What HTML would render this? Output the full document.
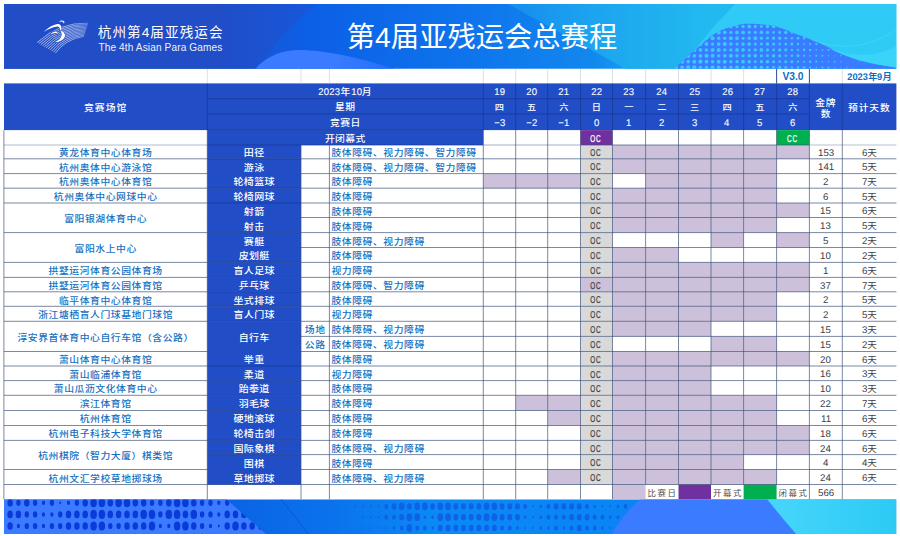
<!DOCTYPE html>
<html lang="zh-CN">
<head>
<meta charset="utf-8">
<title>第4届亚残运会总赛程</title>
<style>
html,body{margin:0;padding:0;background:#fff;}
body{width:900px;height:536px;position:relative;overflow:hidden;font-family:"Liberation Sans","Noto Sans CJK SC",sans-serif;}
#gfx{position:absolute;left:0;top:0;}
.c{position:absolute;box-sizing:border-box;white-space:nowrap;text-align:center;font-size:9.8px;overflow:visible;height:14px;line-height:14px;transform:scaleY(.9);transform-origin:50% 52%;}
.d{display:inline-block;transform:scale(.97,1.11) rotate(.03deg);font-size:9.8px;line-height:1;vertical-align:baseline;}
.ht{color:#fff;font-weight:500;font-size:9.8px;letter-spacing:0.4px;}
.ht .d{letter-spacing:0.2px;font-weight:400;-webkit-text-stroke:0.1px #fff;}
.st{font-weight:500;font-size:10px;letter-spacing:0.3px;}
.bt{color:#1570c1;font-weight:500;font-size:9.8px;letter-spacing:0.58px;}
.l{text-align:left;}
.r{text-align:right;}
.nm{color:#3c4046;font-weight:400;font-size:9.5px;}
.nm .d{font-size:9.7px;transform:scale(1,1.11) rotate(.03deg);}
.oc{color:#484848;font-weight:400;font-size:9.4px;}
.oc .d{font-size:10px;transform:scale(.64,1.11) rotate(.03deg);letter-spacing:1.3px;margin-right:-1.3px;position:relative;left:-0.9px;-webkit-text-stroke:0.32px #484848;}
.oc.w{color:#fff;}
.oc.w .d{-webkit-text-stroke:0.3px #fff;}
.lg{color:#4a4a4a;font-weight:400;font-size:8.4px;text-align:left;letter-spacing:1.6px;}
.vb{color:#0b70c5;font-weight:700;font-size:10.6px;transform:none;}
.vb .d{font-size:1.04em;transform:scaleX(.97) rotate(.03deg);}
.t1{position:absolute;left:97.8px;top:23.2px;color:#fff;font-size:13.6px;letter-spacing:1.05px;line-height:20px;white-space:nowrap;font-weight:400;}
.t2{position:absolute;left:98.4px;top:40.6px;color:#fff;font-size:10.1px;letter-spacing:0.12px;line-height:14px;white-space:nowrap;opacity:.93;}
.tt{position:absolute;left:346.8px;top:17.4px;color:#fff;font-size:28.3px;line-height:40px;white-space:nowrap;font-weight:400;}
</style>
</head>
<body>
<svg id="gfx" width="900" height="536" viewBox="0 0 900 536">
<defs>
<linearGradient id="bg1" gradientUnits="userSpaceOnUse" x1="4" y1="0" x2="896.4" y2="0">
<stop offset="0" stop-color="#214dc6"/>
<stop offset="0.27" stop-color="#1a55d4"/>
<stop offset="0.34" stop-color="#0c5fe6"/>
<stop offset="0.52" stop-color="#0e74ec"/>
<stop offset="0.66" stop-color="#1288ee"/>
<stop offset="0.72" stop-color="#1ea6ef"/>
<stop offset="1" stop-color="#22b8f0"/>
</linearGradient>
<linearGradient id="bgD" gradientUnits="userSpaceOnUse" x1="505" y1="0" x2="700" y2="0">
<stop offset="0" stop-color="#158cee"/>
<stop offset="0.45" stop-color="#1ca4ef"/>
<stop offset="1" stop-color="#22b8f0"/>
</linearGradient>
<linearGradient id="bgL" gradientUnits="userSpaceOnUse" x1="215" y1="0" x2="318" y2="0">
<stop offset="0" stop-color="#214dc6"/>
<stop offset="1" stop-color="#1658dc"/>
</linearGradient>
<linearGradient id="hl" gradientUnits="userSpaceOnUse" x1="254" y1="0" x2="400" y2="0">
<stop offset="0" stop-color="#3b7bff"/>
<stop offset="0.55" stop-color="#3b7bff"/>
<stop offset="1" stop-color="#1f6ff2"/>
</linearGradient>
<linearGradient id="lg1" gradientUnits="userSpaceOnUse" x1="36" y1="0" x2="89" y2="0">
<stop offset="0" stop-color="#fff" stop-opacity=".95"/>
<stop offset="0.55" stop-color="#fff" stop-opacity=".9"/>
<stop offset="0.8" stop-color="#fff" stop-opacity=".75"/>
<stop offset="1" stop-color="#fff" stop-opacity=".45"/>
</linearGradient>
<linearGradient id="fgB" gradientUnits="userSpaceOnUse" x1="226" y1="0" x2="640" y2="0">
<stop offset="0" stop-color="#0a63e4"/>
<stop offset="0.25" stop-color="#0a72ec"/>
<stop offset="0.5" stop-color="#0a8af5"/>
<stop offset="1" stop-color="#0a84f4"/>
</linearGradient>
<linearGradient id="fgE" gradientUnits="userSpaceOnUse" x1="766" y1="0" x2="896" y2="0">
<stop offset="0" stop-color="#48d6fa"/>
<stop offset="1" stop-color="#2bcaf5"/>
</linearGradient>
<clipPath id="bclip"><rect x="4" y="3.9" width="892.2" height="64.9"/></clipPath>
<clipPath id="fclip"><rect x="4" y="499.4" width="892.2" height="34.5"/></clipPath>
<clipPath id="aclip"><path d="M0,490H215.7L272.9,540H0Z"/></clipPath>
<clipPath id="cclip"><path d="M340,490H646Q628,508 608,540H340Z"/></clipPath>
<clipPath id="hclip"><path d="M672.0,70.0C674.0,68.3 679.7,63.8 684.0,60.0C688.3,56.2 692.5,52.1 698.0,47.5C703.5,42.9 710.4,36.2 716.7,32.6C723.0,29.0 730.2,27.3 735.6,25.8C741.0,24.3 742.8,23.8 749.0,23.8C755.2,23.8 765.8,24.4 773.0,25.8C780.2,27.2 785.7,30.1 792.0,32.4C798.3,34.7 804.7,36.9 811.0,39.5C817.3,42.1 822.0,44.3 830.0,47.8C838.0,51.3 847.3,57.1 859.0,60.5C870.7,63.9 893.2,66.9 900.0,68.2L900,71L672,71Z"/></clipPath>
</defs>
<!-- banner -->
<g clip-path="url(#bclip)">
<rect x="4" y="3" width="893" height="67" fill="url(#bg1)"/>
<path d="M4,3 L318,3 C294,22 272,44 258,70 L4,70 Z" fill="url(#bgL)"/>
<path d="M254,70 C268,54 286,49 304,50 C340,52 372,62 398,70 Z" fill="url(#hl)"/>
<path d="M506,3 L628,70 L900,70 L900,3 Z" fill="url(#bgD)"/>
<path d="M736,3 C718,22 700,40 682,70 L900,70 L900,3 Z" fill="#30caf6"/>
<path d="M672.0,70.0C674.0,68.3 679.7,63.8 684.0,60.0C688.3,56.2 692.5,52.1 698.0,47.5C703.5,42.9 710.4,36.2 716.7,32.6C723.0,29.0 730.2,27.3 735.6,25.8C741.0,24.3 742.8,23.8 749.0,23.8C755.2,23.8 765.8,24.4 773.0,25.8C780.2,27.2 785.7,30.1 792.0,32.4C798.3,34.7 804.7,36.9 811.0,39.5C817.3,42.1 822.0,44.3 830.0,47.8C838.0,51.3 847.3,57.1 859.0,60.5C870.7,63.9 893.2,66.9 900.0,68.2L900,71L672,71Z" fill="#3b7bff"/>
<g clip-path="url(#hclip)" fill="#38c9fa"><circle cx="676.0" cy="26.5" r="2.10"/><circle cx="682.1" cy="26.5" r="2.27"/><circle cx="688.2" cy="26.5" r="1.98"/><circle cx="694.3" cy="26.5" r="1.82"/><circle cx="700.4" cy="26.5" r="2.07"/><circle cx="706.5" cy="26.5" r="2.09"/><circle cx="712.6" cy="26.5" r="1.76"/><circle cx="718.7" cy="26.5" r="1.74"/><circle cx="724.8" cy="26.5" r="2.01"/><circle cx="730.9" cy="26.5" r="1.88"/><circle cx="737.0" cy="26.5" r="1.58"/><circle cx="743.1" cy="26.5" r="1.71"/><circle cx="749.2" cy="26.5" r="1.90"/><circle cx="755.3" cy="26.5" r="1.65"/><circle cx="761.4" cy="26.5" r="1.44"/><circle cx="767.5" cy="26.5" r="1.67"/><circle cx="773.6" cy="26.5" r="1.75"/><circle cx="779.7" cy="26.5" r="1.42"/><circle cx="785.8" cy="26.5" r="1.30"/><circle cx="791.9" cy="26.5" r="1.51"/><circle cx="798.0" cy="26.5" r="1.37"/><circle cx="804.1" cy="26.5" r="0.99"/><circle cx="810.2" cy="26.5" r="1.02"/><circle cx="816.3" cy="26.5" r="1.18"/><circle cx="822.4" cy="26.5" r="0.90"/><circle cx="828.5" cy="26.5" r="0.60"/><circle cx="834.6" cy="26.5" r="0.75"/><circle cx="840.7" cy="26.5" r="0.81"/><circle cx="859.0" cy="26.5" r="0.48"/><circle cx="676.0" cy="32.4" r="2.25"/><circle cx="682.1" cy="32.4" r="1.92"/><circle cx="688.2" cy="32.4" r="1.92"/><circle cx="694.3" cy="32.4" r="2.18"/><circle cx="700.4" cy="32.4" r="2.03"/><circle cx="706.5" cy="32.4" r="1.74"/><circle cx="712.6" cy="32.4" r="1.89"/><circle cx="718.7" cy="32.4" r="2.07"/><circle cx="724.8" cy="32.4" r="1.80"/><circle cx="730.9" cy="32.4" r="1.61"/><circle cx="737.0" cy="32.4" r="1.86"/><circle cx="743.1" cy="32.4" r="1.90"/><circle cx="749.2" cy="32.4" r="1.57"/><circle cx="755.3" cy="32.4" r="1.54"/><circle cx="761.4" cy="32.4" r="1.80"/><circle cx="767.5" cy="32.4" r="1.69"/><circle cx="773.6" cy="32.4" r="1.38"/><circle cx="779.7" cy="32.4" r="1.49"/><circle cx="785.8" cy="32.4" r="1.64"/><circle cx="791.9" cy="32.4" r="1.34"/><circle cx="798.0" cy="32.4" r="1.06"/><circle cx="804.1" cy="32.4" r="1.23"/><circle cx="810.2" cy="32.4" r="1.26"/><circle cx="816.3" cy="32.4" r="0.88"/><circle cx="822.4" cy="32.4" r="0.74"/><circle cx="828.5" cy="32.4" r="0.95"/><circle cx="834.6" cy="32.4" r="0.83"/><circle cx="846.8" cy="32.4" r="0.46"/><circle cx="852.9" cy="32.4" r="0.63"/><circle cx="676.0" cy="38.2" r="1.90"/><circle cx="682.1" cy="38.2" r="2.07"/><circle cx="688.2" cy="38.2" r="2.23"/><circle cx="694.3" cy="38.2" r="1.95"/><circle cx="700.4" cy="38.2" r="1.78"/><circle cx="706.5" cy="38.2" r="2.04"/><circle cx="712.6" cy="38.2" r="2.06"/><circle cx="718.7" cy="38.2" r="1.73"/><circle cx="724.8" cy="38.2" r="1.71"/><circle cx="730.9" cy="38.2" r="1.98"/><circle cx="737.0" cy="38.2" r="1.84"/><circle cx="743.1" cy="38.2" r="1.54"/><circle cx="749.2" cy="38.2" r="1.68"/><circle cx="755.3" cy="38.2" r="1.87"/><circle cx="761.4" cy="38.2" r="1.61"/><circle cx="767.5" cy="38.2" r="1.41"/><circle cx="773.6" cy="38.2" r="1.64"/><circle cx="779.7" cy="38.2" r="1.71"/><circle cx="785.8" cy="38.2" r="1.32"/><circle cx="791.9" cy="38.2" r="1.21"/><circle cx="798.0" cy="38.2" r="1.42"/><circle cx="804.1" cy="38.2" r="1.27"/><circle cx="810.2" cy="38.2" r="0.89"/><circle cx="816.3" cy="38.2" r="0.93"/><circle cx="822.4" cy="38.2" r="1.09"/><circle cx="828.5" cy="38.2" r="0.81"/><circle cx="834.6" cy="38.2" r="0.51"/><circle cx="840.7" cy="38.2" r="0.67"/><circle cx="846.8" cy="38.2" r="0.71"/><circle cx="676.0" cy="44.1" r="2.22"/><circle cx="682.1" cy="44.1" r="2.21"/><circle cx="688.2" cy="44.1" r="1.88"/><circle cx="694.3" cy="44.1" r="1.89"/><circle cx="700.4" cy="44.1" r="2.15"/><circle cx="706.5" cy="44.1" r="1.99"/><circle cx="712.6" cy="44.1" r="1.70"/><circle cx="718.7" cy="44.1" r="1.86"/><circle cx="724.8" cy="44.1" r="2.03"/><circle cx="730.9" cy="44.1" r="1.76"/><circle cx="737.0" cy="44.1" r="1.58"/><circle cx="743.1" cy="44.1" r="1.83"/><circle cx="749.2" cy="44.1" r="1.87"/><circle cx="755.3" cy="44.1" r="1.54"/><circle cx="761.4" cy="44.1" r="1.50"/><circle cx="767.5" cy="44.1" r="1.77"/><circle cx="773.6" cy="44.1" r="1.66"/><circle cx="779.7" cy="44.1" r="1.35"/><circle cx="785.8" cy="44.1" r="1.40"/><circle cx="791.9" cy="44.1" r="1.55"/><circle cx="798.0" cy="44.1" r="1.25"/><circle cx="804.1" cy="44.1" r="0.97"/><circle cx="810.2" cy="44.1" r="1.14"/><circle cx="816.3" cy="44.1" r="1.17"/><circle cx="822.4" cy="44.1" r="0.79"/><circle cx="828.5" cy="44.1" r="0.65"/><circle cx="834.6" cy="44.1" r="0.86"/><circle cx="840.7" cy="44.1" r="0.73"/><circle cx="859.0" cy="44.1" r="0.54"/><circle cx="676.0" cy="49.9" r="2.14"/><circle cx="682.1" cy="49.9" r="1.87"/><circle cx="688.2" cy="49.9" r="2.04"/><circle cx="694.3" cy="49.9" r="2.20"/><circle cx="700.4" cy="49.9" r="1.91"/><circle cx="706.5" cy="49.9" r="1.75"/><circle cx="712.6" cy="49.9" r="2.01"/><circle cx="718.7" cy="49.9" r="2.02"/><circle cx="724.8" cy="49.9" r="1.69"/><circle cx="730.9" cy="49.9" r="1.68"/><circle cx="737.0" cy="49.9" r="1.94"/><circle cx="743.1" cy="49.9" r="1.81"/><circle cx="749.2" cy="49.9" r="1.51"/><circle cx="755.3" cy="49.9" r="1.65"/><circle cx="761.4" cy="49.9" r="1.84"/><circle cx="767.5" cy="49.9" r="1.57"/><circle cx="773.6" cy="49.9" r="1.38"/><circle cx="779.7" cy="49.9" r="1.61"/><circle cx="785.8" cy="49.9" r="1.62"/><circle cx="791.9" cy="49.9" r="1.23"/><circle cx="798.0" cy="49.9" r="1.12"/><circle cx="804.1" cy="49.9" r="1.33"/><circle cx="810.2" cy="49.9" r="1.18"/><circle cx="816.3" cy="49.9" r="0.80"/><circle cx="822.4" cy="49.9" r="0.84"/><circle cx="828.5" cy="49.9" r="1.00"/><circle cx="834.6" cy="49.9" r="0.71"/><circle cx="846.8" cy="49.9" r="0.58"/><circle cx="852.9" cy="49.9" r="0.62"/><circle cx="676.0" cy="55.8" r="1.92"/><circle cx="682.1" cy="55.8" r="2.19"/><circle cx="688.2" cy="55.8" r="2.18"/><circle cx="694.3" cy="55.8" r="1.84"/><circle cx="700.4" cy="55.8" r="1.86"/><circle cx="706.5" cy="55.8" r="2.12"/><circle cx="712.6" cy="55.8" r="1.96"/><circle cx="718.7" cy="55.8" r="1.67"/><circle cx="724.8" cy="55.8" r="1.83"/><circle cx="730.9" cy="55.8" r="2.00"/><circle cx="737.0" cy="55.8" r="1.72"/><circle cx="743.1" cy="55.8" r="1.55"/><circle cx="749.2" cy="55.8" r="1.80"/><circle cx="755.3" cy="55.8" r="1.83"/><circle cx="761.4" cy="55.8" r="1.50"/><circle cx="767.5" cy="55.8" r="1.47"/><circle cx="773.6" cy="55.8" r="1.74"/><circle cx="779.7" cy="55.8" r="1.62"/><circle cx="785.8" cy="55.8" r="1.25"/><circle cx="791.9" cy="55.8" r="1.32"/><circle cx="798.0" cy="55.8" r="1.46"/><circle cx="804.1" cy="55.8" r="1.15"/><circle cx="810.2" cy="55.8" r="0.88"/><circle cx="816.3" cy="55.8" r="1.05"/><circle cx="822.4" cy="55.8" r="1.07"/><circle cx="828.5" cy="55.8" r="0.69"/><circle cx="834.6" cy="55.8" r="0.56"/><circle cx="840.7" cy="55.8" r="0.77"/><circle cx="846.8" cy="55.8" r="0.64"/><circle cx="676.0" cy="61.7" r="2.29"/><circle cx="682.1" cy="61.7" r="2.11"/><circle cx="688.2" cy="61.7" r="1.83"/><circle cx="694.3" cy="61.7" r="2.01"/><circle cx="700.4" cy="61.7" r="2.16"/><circle cx="706.5" cy="61.7" r="1.87"/><circle cx="712.6" cy="61.7" r="1.72"/><circle cx="718.7" cy="61.7" r="1.98"/><circle cx="724.8" cy="61.7" r="1.99"/><circle cx="730.9" cy="61.7" r="1.65"/><circle cx="737.0" cy="61.7" r="1.65"/><circle cx="743.1" cy="61.7" r="1.91"/><circle cx="749.2" cy="61.7" r="1.77"/><circle cx="755.3" cy="61.7" r="1.47"/><circle cx="761.4" cy="61.7" r="1.62"/><circle cx="767.5" cy="61.7" r="1.80"/><circle cx="773.6" cy="61.7" r="1.54"/><circle cx="779.7" cy="61.7" r="1.34"/><circle cx="785.8" cy="61.7" r="1.52"/><circle cx="791.9" cy="61.7" r="1.52"/><circle cx="798.0" cy="61.7" r="1.13"/><circle cx="804.1" cy="61.7" r="1.03"/><circle cx="810.2" cy="61.7" r="1.24"/><circle cx="816.3" cy="61.7" r="1.08"/><circle cx="822.4" cy="61.7" r="0.71"/><circle cx="828.5" cy="61.7" r="0.75"/><circle cx="834.6" cy="61.7" r="0.91"/><circle cx="840.7" cy="61.7" r="0.62"/><circle cx="852.9" cy="61.7" r="0.49"/><circle cx="859.0" cy="61.7" r="0.53"/><circle cx="676.0" cy="67.5" r="2.02"/><circle cx="682.1" cy="67.5" r="1.89"/><circle cx="688.2" cy="67.5" r="2.15"/><circle cx="694.3" cy="67.5" r="2.14"/><circle cx="700.4" cy="67.5" r="1.81"/><circle cx="706.5" cy="67.5" r="1.83"/><circle cx="712.6" cy="67.5" r="2.09"/><circle cx="718.7" cy="67.5" r="1.92"/><circle cx="724.8" cy="67.5" r="1.64"/><circle cx="730.9" cy="67.5" r="1.80"/><circle cx="737.0" cy="67.5" r="1.97"/><circle cx="743.1" cy="67.5" r="1.69"/><circle cx="749.2" cy="67.5" r="1.52"/><circle cx="755.3" cy="67.5" r="1.77"/><circle cx="761.4" cy="67.5" r="1.80"/><circle cx="767.5" cy="67.5" r="1.47"/><circle cx="773.6" cy="67.5" r="1.44"/><circle cx="779.7" cy="67.5" r="1.70"/><circle cx="785.8" cy="67.5" r="1.53"/><circle cx="791.9" cy="67.5" r="1.16"/><circle cx="798.0" cy="67.5" r="1.23"/><circle cx="804.1" cy="67.5" r="1.37"/><circle cx="810.2" cy="67.5" r="1.06"/><circle cx="816.3" cy="67.5" r="0.79"/><circle cx="822.4" cy="67.5" r="0.96"/><circle cx="828.5" cy="67.5" r="0.98"/><circle cx="834.6" cy="67.5" r="0.60"/><circle cx="840.7" cy="67.5" r="0.47"/><circle cx="846.8" cy="67.5" r="0.68"/><circle cx="852.9" cy="67.5" r="0.55"/></g>
<path d="M900,44 C876,58 852,58 826,46.5 C846,58 872,64 900,68.2 Z" fill="#3ad4f9"/>
<path d="M900,27 C874,46 846,52 812,40" fill="none" stroke="#5fdcfb" stroke-width="0.7" stroke-opacity=".6"/>
</g>
<!-- logo -->
<g fill="none" stroke="url(#lg1)" stroke-width="0.62" stroke-linecap="round"><path d="M37.4,42.3Q59.9,21.9 87.8,23.2"/><path d="M39.2,43.3Q60.5,23.6 87.4,24.5"/><path d="M41.0,44.4Q61.0,25.3 87.0,25.8"/><path d="M42.9,45.4Q61.5,27.1 86.5,27.2"/><path d="M44.7,46.5Q62.1,28.8 86.1,28.5"/><path d="M46.5,47.5Q62.7,30.5 85.7,29.8"/><path d="M48.3,48.6Q63.2,32.2 85.3,31.1"/><path d="M50.1,49.6Q63.8,33.9 84.9,32.4"/><path d="M52.0,50.7Q64.3,35.7 84.4,33.8"/><path d="M53.8,51.8Q64.9,37.4 84.0,35.1"/><path d="M55.6,52.8Q65.4,39.1 83.6,36.4"/></g>
<g fill="#fff" stroke="#214dc6" stroke-width="1.1" paint-order="stroke">
<path d="M58.9,22.2 C60,20.2 62.6,19.8 64.3,21.6 C64.6,22.4 64.3,23.2 63.7,23.6 C63.6,22.4 62.8,21.5 61.6,21.4 C60.6,21.3 59.7,21.6 58.9,22.2Z"/>
<path d="M43.5,31.9 C47.5,28 52.5,25 57.5,24.0 C60.5,23.8 62.0,26 61.4,30.6 L60.0,30.9 C60.3,28.2 59.3,26.6 57.2,26.5 C52.6,27.2 48,29.2 43.5,31.9Z"/>
<path d="M60.0,30.6 C64.0,31.6 66.2,34.6 64.4,37.8 C62.6,40.8 58.8,42.3 54.9,41.9 C58.4,40.9 61.0,38.6 61.6,35.6 C61.9,33.6 61.2,31.8 60.0,30.6Z"/>
<path d="M50.3,34.8 C51.3,32.6 53.6,31.2 56.0,31.4 C57.4,31.6 58.0,32.8 57.6,34.6 C57.2,33.4 56.2,32.8 55.0,33.0 C53.2,33.2 51.6,33.8 50.3,34.8Z"/>
</g>
<!-- footer -->
<g clip-path="url(#fclip)">
<rect x="4" y="499" width="893" height="36" fill="url(#fgB)"/>
<g clip-path="url(#aclip)"><rect x="0" y="499" width="280" height="36" fill="#3b7bff"/><g fill="#0a3ad8"><ellipse cx="10.1" cy="502.8" rx="2.75" ry="3.85"/><ellipse cx="18.4" cy="502.8" rx="2.2" ry="3.08"/><ellipse cx="26.8" cy="502.8" rx="2.75" ry="3.85"/><ellipse cx="35.1" cy="502.8" rx="2.2" ry="3.08"/><ellipse cx="43.5" cy="502.8" rx="1.6" ry="2.24"/><ellipse cx="51.9" cy="502.8" rx="2.2" ry="3.08"/><ellipse cx="60.2" cy="502.8" rx="1.0" ry="1.40"/><ellipse cx="68.5" cy="502.8" rx="1.6" ry="2.24"/><ellipse cx="76.9" cy="502.8" rx="2.2" ry="3.08"/><ellipse cx="85.2" cy="502.8" rx="2.75" ry="3.85"/><ellipse cx="93.6" cy="502.8" rx="3.25" ry="4.55"/><ellipse cx="101.9" cy="502.8" rx="3.25" ry="4.55"/><ellipse cx="110.3" cy="502.8" rx="2.75" ry="3.85"/><ellipse cx="118.6" cy="502.8" rx="3.25" ry="4.55"/><ellipse cx="127.0" cy="502.8" rx="3.25" ry="4.55"/><ellipse cx="135.3" cy="502.8" rx="2.75" ry="3.85"/><ellipse cx="143.7" cy="502.8" rx="2.75" ry="3.85"/><ellipse cx="152.0" cy="502.8" rx="2.2" ry="3.08"/><ellipse cx="160.4" cy="502.8" rx="2.2" ry="3.08"/><ellipse cx="168.8" cy="502.8" rx="2.75" ry="3.85"/><ellipse cx="177.1" cy="502.8" rx="3.25" ry="4.55"/><ellipse cx="185.4" cy="502.8" rx="3.25" ry="4.55"/><ellipse cx="193.8" cy="502.8" rx="2.75" ry="3.85"/><ellipse cx="202.1" cy="502.8" rx="2.2" ry="3.08"/><ellipse cx="210.5" cy="502.8" rx="2.2" ry="3.08"/><ellipse cx="218.8" cy="502.8" rx="1.6" ry="2.24"/><ellipse cx="227.2" cy="502.8" rx="2.2" ry="3.08"/><ellipse cx="235.5" cy="502.8" rx="2.2" ry="3.08"/><ellipse cx="10.1" cy="514.4" rx="2.75" ry="3.85"/><ellipse cx="18.4" cy="514.4" rx="2.75" ry="3.85"/><ellipse cx="26.8" cy="514.4" rx="2.2" ry="3.08"/><ellipse cx="35.1" cy="514.4" rx="2.2" ry="3.08"/><ellipse cx="43.5" cy="514.4" rx="1.6" ry="2.24"/><ellipse cx="51.9" cy="514.4" rx="1.6" ry="2.24"/><ellipse cx="60.2" cy="514.4" rx="2.2" ry="3.08"/><ellipse cx="68.5" cy="514.4" rx="2.75" ry="3.85"/><ellipse cx="76.9" cy="514.4" rx="2.75" ry="3.85"/><ellipse cx="85.2" cy="514.4" rx="2.75" ry="3.85"/><ellipse cx="93.6" cy="514.4" rx="3.25" ry="4.55"/><ellipse cx="101.9" cy="514.4" rx="3.25" ry="4.55"/><ellipse cx="110.3" cy="514.4" rx="2.75" ry="3.85"/><ellipse cx="118.6" cy="514.4" rx="2.75" ry="3.85"/><ellipse cx="127.0" cy="514.4" rx="2.75" ry="3.85"/><ellipse cx="135.3" cy="514.4" rx="2.75" ry="3.85"/><ellipse cx="143.7" cy="514.4" rx="3.25" ry="4.55"/><ellipse cx="152.0" cy="514.4" rx="3.25" ry="4.55"/><ellipse cx="160.4" cy="514.4" rx="2.2" ry="3.08"/><ellipse cx="168.8" cy="514.4" rx="3.25" ry="4.55"/><ellipse cx="177.1" cy="514.4" rx="3.25" ry="4.55"/><ellipse cx="185.4" cy="514.4" rx="2.75" ry="3.85"/><ellipse cx="193.8" cy="514.4" rx="3.25" ry="4.55"/><ellipse cx="202.1" cy="514.4" rx="2.2" ry="3.08"/><ellipse cx="210.5" cy="514.4" rx="2.2" ry="3.08"/><ellipse cx="218.8" cy="514.4" rx="1.6" ry="2.24"/><ellipse cx="227.2" cy="514.4" rx="2.75" ry="3.85"/><ellipse cx="235.5" cy="514.4" rx="2.75" ry="3.85"/><ellipse cx="243.9" cy="514.4" rx="2.75" ry="3.85"/><ellipse cx="10.1" cy="526.0" rx="2.75" ry="3.85"/><ellipse cx="18.4" cy="526.0" rx="1.6" ry="2.24"/><ellipse cx="26.8" cy="526.0" rx="2.2" ry="3.08"/><ellipse cx="35.1" cy="526.0" rx="2.2" ry="3.08"/><ellipse cx="43.5" cy="526.0" rx="1.6" ry="2.24"/><ellipse cx="51.9" cy="526.0" rx="2.2" ry="3.08"/><ellipse cx="60.2" cy="526.0" rx="2.2" ry="3.08"/><ellipse cx="68.5" cy="526.0" rx="2.75" ry="3.85"/><ellipse cx="76.9" cy="526.0" rx="2.75" ry="3.85"/><ellipse cx="85.2" cy="526.0" rx="2.75" ry="3.85"/><ellipse cx="93.6" cy="526.0" rx="3.25" ry="4.55"/><ellipse cx="101.9" cy="526.0" rx="3.25" ry="4.55"/><ellipse cx="110.3" cy="526.0" rx="2.2" ry="3.08"/><ellipse cx="118.6" cy="526.0" rx="2.2" ry="3.08"/><ellipse cx="127.0" cy="526.0" rx="2.75" ry="3.85"/><ellipse cx="135.3" cy="526.0" rx="2.75" ry="3.85"/><ellipse cx="143.7" cy="526.0" rx="2.75" ry="3.85"/><ellipse cx="152.0" cy="526.0" rx="3.25" ry="4.55"/><ellipse cx="160.4" cy="526.0" rx="1.6" ry="2.24"/><ellipse cx="168.8" cy="526.0" rx="1.6" ry="2.24"/><ellipse cx="177.1" cy="526.0" rx="3.25" ry="4.55"/><ellipse cx="185.4" cy="526.0" rx="3.25" ry="4.55"/><ellipse cx="193.8" cy="526.0" rx="2.75" ry="3.85"/><ellipse cx="202.1" cy="526.0" rx="2.2" ry="3.08"/><ellipse cx="210.5" cy="526.0" rx="1.6" ry="2.24"/><ellipse cx="218.8" cy="526.0" rx="1.0" ry="1.40"/><ellipse cx="227.2" cy="526.0" rx="2.75" ry="3.85"/><ellipse cx="235.5" cy="526.0" rx="3.25" ry="4.55"/><ellipse cx="243.9" cy="526.0" rx="2.75" ry="3.85"/><ellipse cx="252.2" cy="526.0" rx="2.75" ry="3.85"/><ellipse cx="260.6" cy="526.0" rx="2.75" ry="3.85"/><ellipse cx="85.2" cy="537.6" rx="2.2" ry="3.08"/><ellipse cx="93.6" cy="537.6" rx="2.75" ry="3.85"/><ellipse cx="101.9" cy="537.6" rx="2.75" ry="3.85"/><ellipse cx="110.3" cy="537.6" rx="2.2" ry="3.08"/><ellipse cx="135.3" cy="537.6" rx="2.75" ry="3.85"/><ellipse cx="143.7" cy="537.6" rx="2.75" ry="3.85"/><ellipse cx="152.0" cy="537.6" rx="2.2" ry="3.08"/><ellipse cx="177.1" cy="537.6" rx="2.75" ry="3.85"/><ellipse cx="185.4" cy="537.6" rx="2.75" ry="3.85"/><ellipse cx="193.8" cy="537.6" rx="2.75" ry="3.85"/><ellipse cx="202.1" cy="537.6" rx="2.75" ry="3.85"/></g></g>
<path d="M281,499L309,535" stroke="#0a50d0" stroke-width="0.8" fill="none"/>
<g clip-path="url(#cclip)"><g fill="#1060e8"><ellipse cx="355.4" cy="506.4" rx="0.8" ry="1.09"/><ellipse cx="363.1" cy="506.4" rx="0.8" ry="1.09"/><ellipse cx="370.8" cy="506.4" rx="0.8" ry="1.09"/><ellipse cx="378.6" cy="506.4" rx="0.8" ry="1.09"/><ellipse cx="386.3" cy="506.4" rx="1.9" ry="2.58"/><ellipse cx="394.0" cy="506.4" rx="2.4" ry="3.26"/><ellipse cx="401.7" cy="506.4" rx="2.85" ry="3.88"/><ellipse cx="409.4" cy="506.4" rx="2.4" ry="3.26"/><ellipse cx="417.2" cy="506.4" rx="2.85" ry="3.88"/><ellipse cx="424.9" cy="506.4" rx="2.85" ry="3.88"/><ellipse cx="432.6" cy="506.4" rx="2.4" ry="3.26"/><ellipse cx="440.3" cy="506.4" rx="2.85" ry="3.88"/><ellipse cx="448.0" cy="506.4" rx="2.85" ry="3.88"/><ellipse cx="455.8" cy="506.4" rx="2.4" ry="3.26"/><ellipse cx="463.5" cy="506.4" rx="2.4" ry="3.26"/><ellipse cx="471.2" cy="506.4" rx="2.4" ry="3.26"/><ellipse cx="478.9" cy="506.4" rx="2.4" ry="3.26"/><ellipse cx="486.6" cy="506.4" rx="2.85" ry="3.88"/><ellipse cx="494.4" cy="506.4" rx="2.85" ry="3.88"/><ellipse cx="502.1" cy="506.4" rx="2.4" ry="3.26"/><ellipse cx="509.8" cy="506.4" rx="2.4" ry="3.26"/><ellipse cx="517.5" cy="506.4" rx="2.4" ry="3.26"/><ellipse cx="525.2" cy="506.4" rx="1.9" ry="2.58"/><ellipse cx="533.0" cy="506.4" rx="0.8" ry="1.09"/><ellipse cx="540.7" cy="506.4" rx="1.3" ry="1.77"/><ellipse cx="548.4" cy="506.4" rx="1.9" ry="2.58"/><ellipse cx="556.1" cy="506.4" rx="2.4" ry="3.26"/><ellipse cx="563.8" cy="506.4" rx="2.4" ry="3.26"/><ellipse cx="571.6" cy="506.4" rx="2.4" ry="3.26"/><ellipse cx="579.3" cy="506.4" rx="2.4" ry="3.26"/><ellipse cx="587.0" cy="506.4" rx="1.9" ry="2.58"/><ellipse cx="594.7" cy="506.4" rx="1.3" ry="1.77"/><ellipse cx="602.4" cy="506.4" rx="0.8" ry="1.09"/><ellipse cx="610.2" cy="506.4" rx="0.8" ry="1.09"/><ellipse cx="617.9" cy="506.4" rx="1.3" ry="1.77"/><ellipse cx="625.6" cy="506.4" rx="1.9" ry="2.58"/><ellipse cx="363.1" cy="517.2" rx="0.8" ry="1.09"/><ellipse cx="370.8" cy="517.2" rx="0.8" ry="1.09"/><ellipse cx="378.6" cy="517.2" rx="0.8" ry="1.09"/><ellipse cx="386.3" cy="517.2" rx="1.9" ry="2.58"/><ellipse cx="394.0" cy="517.2" rx="1.9" ry="2.58"/><ellipse cx="401.7" cy="517.2" rx="2.4" ry="3.26"/><ellipse cx="409.4" cy="517.2" rx="2.85" ry="3.88"/><ellipse cx="417.2" cy="517.2" rx="2.85" ry="3.88"/><ellipse cx="424.9" cy="517.2" rx="1.3" ry="1.77"/><ellipse cx="432.6" cy="517.2" rx="1.3" ry="1.77"/><ellipse cx="440.3" cy="517.2" rx="2.85" ry="3.88"/><ellipse cx="448.0" cy="517.2" rx="2.85" ry="3.88"/><ellipse cx="455.8" cy="517.2" rx="2.4" ry="3.26"/><ellipse cx="463.5" cy="517.2" rx="2.4" ry="3.26"/><ellipse cx="471.2" cy="517.2" rx="2.4" ry="3.26"/><ellipse cx="478.9" cy="517.2" rx="2.4" ry="3.26"/><ellipse cx="486.6" cy="517.2" rx="2.85" ry="3.88"/><ellipse cx="494.4" cy="517.2" rx="2.85" ry="3.88"/><ellipse cx="502.1" cy="517.2" rx="2.4" ry="3.26"/><ellipse cx="509.8" cy="517.2" rx="2.4" ry="3.26"/><ellipse cx="517.5" cy="517.2" rx="2.4" ry="3.26"/><ellipse cx="525.2" cy="517.2" rx="1.3" ry="1.77"/><ellipse cx="533.0" cy="517.2" rx="0.8" ry="1.09"/><ellipse cx="540.7" cy="517.2" rx="1.3" ry="1.77"/><ellipse cx="548.4" cy="517.2" rx="1.9" ry="2.58"/><ellipse cx="556.1" cy="517.2" rx="1.9" ry="2.58"/><ellipse cx="563.8" cy="517.2" rx="1.9" ry="2.58"/><ellipse cx="571.6" cy="517.2" rx="2.4" ry="3.26"/><ellipse cx="579.3" cy="517.2" rx="2.4" ry="3.26"/><ellipse cx="587.0" cy="517.2" rx="2.4" ry="3.26"/><ellipse cx="594.7" cy="517.2" rx="1.9" ry="2.58"/><ellipse cx="602.4" cy="517.2" rx="1.9" ry="2.58"/><ellipse cx="610.2" cy="517.2" rx="1.3" ry="1.77"/><ellipse cx="617.9" cy="517.2" rx="1.3" ry="1.77"/><ellipse cx="363.1" cy="528.0" rx="0.8" ry="1.09"/><ellipse cx="370.8" cy="528.0" rx="0.8" ry="1.09"/><ellipse cx="378.6" cy="528.0" rx="0.8" ry="1.09"/><ellipse cx="386.3" cy="528.0" rx="0.8" ry="1.09"/><ellipse cx="394.0" cy="528.0" rx="1.3" ry="1.77"/><ellipse cx="401.7" cy="528.0" rx="1.9" ry="2.58"/><ellipse cx="409.4" cy="528.0" rx="2.85" ry="3.88"/><ellipse cx="417.2" cy="528.0" rx="1.9" ry="2.58"/><ellipse cx="424.9" cy="528.0" rx="1.9" ry="2.58"/><ellipse cx="432.6" cy="528.0" rx="1.3" ry="1.77"/><ellipse cx="440.3" cy="528.0" rx="2.4" ry="3.26"/><ellipse cx="448.0" cy="528.0" rx="2.4" ry="3.26"/><ellipse cx="455.8" cy="528.0" rx="2.4" ry="3.26"/><ellipse cx="463.5" cy="528.0" rx="2.4" ry="3.26"/><ellipse cx="471.2" cy="528.0" rx="2.4" ry="3.26"/><ellipse cx="478.9" cy="528.0" rx="2.4" ry="3.26"/><ellipse cx="486.6" cy="528.0" rx="2.4" ry="3.26"/><ellipse cx="494.4" cy="528.0" rx="2.4" ry="3.26"/><ellipse cx="502.1" cy="528.0" rx="1.9" ry="2.58"/><ellipse cx="509.8" cy="528.0" rx="1.9" ry="2.58"/><ellipse cx="517.5" cy="528.0" rx="1.3" ry="1.77"/><ellipse cx="525.2" cy="528.0" rx="0.8" ry="1.09"/><ellipse cx="533.0" cy="528.0" rx="0.8" ry="1.09"/><ellipse cx="540.7" cy="528.0" rx="1.3" ry="1.77"/><ellipse cx="548.4" cy="528.0" rx="1.3" ry="1.77"/><ellipse cx="556.1" cy="528.0" rx="1.9" ry="2.58"/><ellipse cx="563.8" cy="528.0" rx="1.3" ry="1.77"/><ellipse cx="571.6" cy="528.0" rx="1.9" ry="2.58"/><ellipse cx="579.3" cy="528.0" rx="2.4" ry="3.26"/><ellipse cx="587.0" cy="528.0" rx="1.9" ry="2.58"/><ellipse cx="594.7" cy="528.0" rx="1.9" ry="2.58"/><ellipse cx="602.4" cy="528.0" rx="1.3" ry="1.77"/><ellipse cx="610.2" cy="528.0" rx="0.8" ry="1.09"/></g></g>
<path d="M641,499 Q626,510 611,535 L797,535 L767,499 Z" fill="#3b7bff"/>
<path d="M767,499 Q782,518 797,535 L900,535 L900,499 Z" fill="url(#fgE)"/>
</g>
<!-- table fills -->
<rect x="4.00" y="83.40" width="892.40" height="46.70" fill="#214dc6"/>
<rect x="207.30" y="130.10" width="276.00" height="14.90" fill="#214dc6"/>
<rect x="580.50" y="130.10" width="32.00" height="14.90" fill="#7030a0"/>
<rect x="776.60" y="130.10" width="32.80" height="14.90" fill="#00b050"/>
<rect x="207.30" y="145.00" width="93.70" height="13.80" fill="#214dc6"/>
<rect x="580.50" y="145.00" width="32.00" height="13.80" fill="#d9d9d9"/>
<rect x="612.50" y="145.00" width="33.10" height="13.80" fill="#ccc0da"/>
<rect x="645.60" y="145.00" width="32.90" height="13.80" fill="#ccc0da"/>
<rect x="678.50" y="145.00" width="32.50" height="13.80" fill="#ccc0da"/>
<rect x="711.00" y="145.00" width="32.60" height="13.80" fill="#ccc0da"/>
<rect x="743.60" y="145.00" width="33.00" height="13.80" fill="#ccc0da"/>
<rect x="776.60" y="145.00" width="32.80" height="13.80" fill="#ccc0da"/>
<rect x="207.30" y="158.80" width="93.70" height="14.80" fill="#214dc6"/>
<rect x="580.50" y="158.80" width="32.00" height="14.80" fill="#d9d9d9"/>
<rect x="612.50" y="158.80" width="33.10" height="14.80" fill="#ccc0da"/>
<rect x="645.60" y="158.80" width="32.90" height="14.80" fill="#ccc0da"/>
<rect x="678.50" y="158.80" width="32.50" height="14.80" fill="#ccc0da"/>
<rect x="711.00" y="158.80" width="32.60" height="14.80" fill="#ccc0da"/>
<rect x="743.60" y="158.80" width="33.00" height="14.80" fill="#ccc0da"/>
<rect x="207.30" y="173.60" width="93.70" height="14.60" fill="#214dc6"/>
<rect x="483.30" y="173.60" width="32.40" height="14.60" fill="#ccc0da"/>
<rect x="515.70" y="173.60" width="32.00" height="14.60" fill="#ccc0da"/>
<rect x="547.70" y="173.60" width="32.80" height="14.60" fill="#ccc0da"/>
<rect x="580.50" y="173.60" width="32.00" height="14.60" fill="#d9d9d9"/>
<rect x="645.60" y="173.60" width="32.90" height="14.60" fill="#ccc0da"/>
<rect x="678.50" y="173.60" width="32.50" height="14.60" fill="#ccc0da"/>
<rect x="711.00" y="173.60" width="32.60" height="14.60" fill="#ccc0da"/>
<rect x="743.60" y="173.60" width="33.00" height="14.60" fill="#ccc0da"/>
<rect x="207.30" y="188.20" width="93.70" height="14.80" fill="#214dc6"/>
<rect x="580.50" y="188.20" width="32.00" height="14.80" fill="#d9d9d9"/>
<rect x="612.50" y="188.20" width="33.10" height="14.80" fill="#ccc0da"/>
<rect x="645.60" y="188.20" width="32.90" height="14.80" fill="#ccc0da"/>
<rect x="678.50" y="188.20" width="32.50" height="14.80" fill="#ccc0da"/>
<rect x="711.00" y="188.20" width="32.60" height="14.80" fill="#ccc0da"/>
<rect x="743.60" y="188.20" width="33.00" height="14.80" fill="#ccc0da"/>
<rect x="207.30" y="203.00" width="93.70" height="14.50" fill="#214dc6"/>
<rect x="580.50" y="203.00" width="32.00" height="14.50" fill="#d9d9d9"/>
<rect x="612.50" y="203.00" width="33.10" height="14.50" fill="#ccc0da"/>
<rect x="645.60" y="203.00" width="32.90" height="14.50" fill="#ccc0da"/>
<rect x="678.50" y="203.00" width="32.50" height="14.50" fill="#ccc0da"/>
<rect x="711.00" y="203.00" width="32.60" height="14.50" fill="#ccc0da"/>
<rect x="743.60" y="203.00" width="33.00" height="14.50" fill="#ccc0da"/>
<rect x="776.60" y="203.00" width="32.80" height="14.50" fill="#ccc0da"/>
<rect x="207.30" y="217.50" width="93.70" height="15.10" fill="#214dc6"/>
<rect x="580.50" y="217.50" width="32.00" height="15.10" fill="#d9d9d9"/>
<rect x="612.50" y="217.50" width="33.10" height="15.10" fill="#ccc0da"/>
<rect x="645.60" y="217.50" width="32.90" height="15.10" fill="#ccc0da"/>
<rect x="678.50" y="217.50" width="32.50" height="15.10" fill="#ccc0da"/>
<rect x="711.00" y="217.50" width="32.60" height="15.10" fill="#ccc0da"/>
<rect x="743.60" y="217.50" width="33.00" height="15.10" fill="#ccc0da"/>
<rect x="207.30" y="232.60" width="93.70" height="14.90" fill="#214dc6"/>
<rect x="580.50" y="232.60" width="32.00" height="14.90" fill="#d9d9d9"/>
<rect x="711.00" y="232.60" width="32.60" height="14.90" fill="#ccc0da"/>
<rect x="776.60" y="232.60" width="32.80" height="14.90" fill="#ccc0da"/>
<rect x="207.30" y="247.50" width="93.70" height="14.90" fill="#214dc6"/>
<rect x="580.50" y="247.50" width="32.00" height="14.90" fill="#d9d9d9"/>
<rect x="612.50" y="247.50" width="33.10" height="14.90" fill="#ccc0da"/>
<rect x="645.60" y="247.50" width="32.90" height="14.90" fill="#ccc0da"/>
<rect x="207.30" y="262.40" width="93.70" height="15.00" fill="#214dc6"/>
<rect x="580.50" y="262.40" width="32.00" height="15.00" fill="#d9d9d9"/>
<rect x="612.50" y="262.40" width="33.10" height="15.00" fill="#ccc0da"/>
<rect x="645.60" y="262.40" width="32.90" height="15.00" fill="#ccc0da"/>
<rect x="678.50" y="262.40" width="32.50" height="15.00" fill="#ccc0da"/>
<rect x="711.00" y="262.40" width="32.60" height="15.00" fill="#ccc0da"/>
<rect x="743.60" y="262.40" width="33.00" height="15.00" fill="#ccc0da"/>
<rect x="776.60" y="262.40" width="32.80" height="15.00" fill="#ccc0da"/>
<rect x="207.30" y="277.40" width="93.70" height="14.40" fill="#214dc6"/>
<rect x="580.50" y="277.40" width="32.00" height="14.40" fill="#ccc0da"/>
<rect x="612.50" y="277.40" width="33.10" height="14.40" fill="#ccc0da"/>
<rect x="645.60" y="277.40" width="32.90" height="14.40" fill="#ccc0da"/>
<rect x="678.50" y="277.40" width="32.50" height="14.40" fill="#ccc0da"/>
<rect x="711.00" y="277.40" width="32.60" height="14.40" fill="#ccc0da"/>
<rect x="743.60" y="277.40" width="33.00" height="14.40" fill="#ccc0da"/>
<rect x="776.60" y="277.40" width="32.80" height="14.40" fill="#ccc0da"/>
<rect x="207.30" y="291.80" width="93.70" height="14.50" fill="#214dc6"/>
<rect x="580.50" y="291.80" width="32.00" height="14.50" fill="#d9d9d9"/>
<rect x="612.50" y="291.80" width="33.10" height="14.50" fill="#ccc0da"/>
<rect x="645.60" y="291.80" width="32.90" height="14.50" fill="#ccc0da"/>
<rect x="678.50" y="291.80" width="32.50" height="14.50" fill="#ccc0da"/>
<rect x="711.00" y="291.80" width="32.60" height="14.50" fill="#ccc0da"/>
<rect x="743.60" y="291.80" width="33.00" height="14.50" fill="#ccc0da"/>
<rect x="207.30" y="306.30" width="93.70" height="15.00" fill="#214dc6"/>
<rect x="580.50" y="306.30" width="32.00" height="15.00" fill="#d9d9d9"/>
<rect x="612.50" y="306.30" width="33.10" height="15.00" fill="#ccc0da"/>
<rect x="645.60" y="306.30" width="32.90" height="15.00" fill="#ccc0da"/>
<rect x="678.50" y="306.30" width="32.50" height="15.00" fill="#ccc0da"/>
<rect x="711.00" y="306.30" width="32.60" height="15.00" fill="#ccc0da"/>
<rect x="743.60" y="306.30" width="33.00" height="15.00" fill="#ccc0da"/>
<rect x="207.30" y="321.30" width="93.70" height="30.20" fill="#214dc6"/>
<rect x="580.50" y="321.30" width="32.00" height="15.10" fill="#d9d9d9"/>
<rect x="612.50" y="321.30" width="33.10" height="15.10" fill="#ccc0da"/>
<rect x="645.60" y="321.30" width="32.90" height="15.10" fill="#ccc0da"/>
<rect x="678.50" y="321.30" width="32.50" height="15.10" fill="#ccc0da"/>
<rect x="580.50" y="336.40" width="32.00" height="15.10" fill="#d9d9d9"/>
<rect x="711.00" y="336.40" width="32.60" height="15.10" fill="#ccc0da"/>
<rect x="743.60" y="336.40" width="33.00" height="15.10" fill="#ccc0da"/>
<rect x="207.30" y="351.50" width="93.70" height="14.50" fill="#214dc6"/>
<rect x="580.50" y="351.50" width="32.00" height="14.50" fill="#d9d9d9"/>
<rect x="612.50" y="351.50" width="33.10" height="14.50" fill="#ccc0da"/>
<rect x="645.60" y="351.50" width="32.90" height="14.50" fill="#ccc0da"/>
<rect x="678.50" y="351.50" width="32.50" height="14.50" fill="#ccc0da"/>
<rect x="711.00" y="351.50" width="32.60" height="14.50" fill="#ccc0da"/>
<rect x="743.60" y="351.50" width="33.00" height="14.50" fill="#ccc0da"/>
<rect x="776.60" y="351.50" width="32.80" height="14.50" fill="#ccc0da"/>
<rect x="207.30" y="366.00" width="93.70" height="14.60" fill="#214dc6"/>
<rect x="580.50" y="366.00" width="32.00" height="14.60" fill="#d9d9d9"/>
<rect x="612.50" y="366.00" width="33.10" height="14.60" fill="#ccc0da"/>
<rect x="645.60" y="366.00" width="32.90" height="14.60" fill="#ccc0da"/>
<rect x="678.50" y="366.00" width="32.50" height="14.60" fill="#ccc0da"/>
<rect x="207.30" y="380.60" width="93.70" height="14.70" fill="#214dc6"/>
<rect x="580.50" y="380.60" width="32.00" height="14.70" fill="#d9d9d9"/>
<rect x="612.50" y="380.60" width="33.10" height="14.70" fill="#ccc0da"/>
<rect x="645.60" y="380.60" width="32.90" height="14.70" fill="#ccc0da"/>
<rect x="678.50" y="380.60" width="32.50" height="14.70" fill="#ccc0da"/>
<rect x="207.30" y="395.30" width="93.70" height="15.20" fill="#214dc6"/>
<rect x="515.70" y="395.30" width="32.00" height="15.20" fill="#ccc0da"/>
<rect x="547.70" y="395.30" width="32.80" height="15.20" fill="#ccc0da"/>
<rect x="580.50" y="395.30" width="32.00" height="15.20" fill="#d9d9d9"/>
<rect x="612.50" y="395.30" width="33.10" height="15.20" fill="#ccc0da"/>
<rect x="645.60" y="395.30" width="32.90" height="15.20" fill="#ccc0da"/>
<rect x="678.50" y="395.30" width="32.50" height="15.20" fill="#ccc0da"/>
<rect x="711.00" y="395.30" width="32.60" height="15.20" fill="#ccc0da"/>
<rect x="743.60" y="395.30" width="33.00" height="15.20" fill="#ccc0da"/>
<rect x="207.30" y="410.50" width="93.70" height="15.00" fill="#214dc6"/>
<rect x="547.70" y="410.50" width="32.80" height="15.00" fill="#ccc0da"/>
<rect x="580.50" y="410.50" width="32.00" height="15.00" fill="#d9d9d9"/>
<rect x="612.50" y="410.50" width="33.10" height="15.00" fill="#ccc0da"/>
<rect x="645.60" y="410.50" width="32.90" height="15.00" fill="#ccc0da"/>
<rect x="678.50" y="410.50" width="32.50" height="15.00" fill="#ccc0da"/>
<rect x="711.00" y="410.50" width="32.60" height="15.00" fill="#ccc0da"/>
<rect x="743.60" y="410.50" width="33.00" height="15.00" fill="#ccc0da"/>
<rect x="207.30" y="425.50" width="93.70" height="14.90" fill="#214dc6"/>
<rect x="580.50" y="425.50" width="32.00" height="14.90" fill="#d9d9d9"/>
<rect x="612.50" y="425.50" width="33.10" height="14.90" fill="#ccc0da"/>
<rect x="645.60" y="425.50" width="32.90" height="14.90" fill="#ccc0da"/>
<rect x="678.50" y="425.50" width="32.50" height="14.90" fill="#ccc0da"/>
<rect x="711.00" y="425.50" width="32.60" height="14.90" fill="#ccc0da"/>
<rect x="743.60" y="425.50" width="33.00" height="14.90" fill="#ccc0da"/>
<rect x="776.60" y="425.50" width="32.80" height="14.90" fill="#ccc0da"/>
<rect x="207.30" y="440.40" width="93.70" height="14.20" fill="#214dc6"/>
<rect x="580.50" y="440.40" width="32.00" height="14.20" fill="#d9d9d9"/>
<rect x="612.50" y="440.40" width="33.10" height="14.20" fill="#ccc0da"/>
<rect x="645.60" y="440.40" width="32.90" height="14.20" fill="#ccc0da"/>
<rect x="678.50" y="440.40" width="32.50" height="14.20" fill="#ccc0da"/>
<rect x="711.00" y="440.40" width="32.60" height="14.20" fill="#ccc0da"/>
<rect x="743.60" y="440.40" width="33.00" height="14.20" fill="#ccc0da"/>
<rect x="776.60" y="440.40" width="32.80" height="14.20" fill="#ccc0da"/>
<rect x="207.30" y="454.60" width="93.70" height="14.90" fill="#214dc6"/>
<rect x="580.50" y="454.60" width="32.00" height="14.90" fill="#d9d9d9"/>
<rect x="612.50" y="454.60" width="33.10" height="14.90" fill="#ccc0da"/>
<rect x="645.60" y="454.60" width="32.90" height="14.90" fill="#ccc0da"/>
<rect x="678.50" y="454.60" width="32.50" height="14.90" fill="#ccc0da"/>
<rect x="711.00" y="454.60" width="32.60" height="14.90" fill="#ccc0da"/>
<rect x="207.30" y="469.50" width="93.70" height="15.00" fill="#214dc6"/>
<rect x="547.70" y="469.50" width="32.80" height="15.00" fill="#ccc0da"/>
<rect x="580.50" y="469.50" width="32.00" height="15.00" fill="#d9d9d9"/>
<rect x="612.50" y="469.50" width="33.10" height="15.00" fill="#ccc0da"/>
<rect x="645.60" y="469.50" width="32.90" height="15.00" fill="#ccc0da"/>
<rect x="678.50" y="469.50" width="32.50" height="15.00" fill="#ccc0da"/>
<rect x="711.00" y="469.50" width="32.60" height="15.00" fill="#ccc0da"/>
<rect x="743.60" y="469.50" width="33.00" height="15.00" fill="#ccc0da"/>
<rect x="612.50" y="484.50" width="33.10" height="14.70" fill="#ccc0da"/>
<rect x="678.50" y="484.50" width="32.50" height="14.70" fill="#7030a0"/>
<rect x="743.60" y="484.50" width="33.00" height="14.70" fill="#00b050"/>
<g fill="none"><path d="M207.30,69.00V83.40" stroke="#d4d8de" stroke-width="0.8"/>
<path d="M301.00,69.00V83.40" stroke="#d4d8de" stroke-width="0.8"/>
<path d="M329.40,69.00V83.40" stroke="#d4d8de" stroke-width="0.8"/>
<path d="M483.30,69.00V83.40" stroke="#d4d8de" stroke-width="0.8"/>
<path d="M515.70,69.00V83.40" stroke="#d4d8de" stroke-width="0.8"/>
<path d="M547.70,69.00V83.40" stroke="#d4d8de" stroke-width="0.8"/>
<path d="M580.50,69.00V83.40" stroke="#d4d8de" stroke-width="0.8"/>
<path d="M612.50,69.00V83.40" stroke="#d4d8de" stroke-width="0.8"/>
<path d="M645.60,69.00V83.40" stroke="#d4d8de" stroke-width="0.8"/>
<path d="M678.50,69.00V83.40" stroke="#d4d8de" stroke-width="0.8"/>
<path d="M711.00,69.00V83.40" stroke="#d4d8de" stroke-width="0.8"/>
<path d="M743.60,69.00V83.40" stroke="#d4d8de" stroke-width="0.8"/>
<path d="M776.60,69.00V83.40" stroke="#d4d8de" stroke-width="0.8"/>
<path d="M809.40,69.00V83.40" stroke="#d4d8de" stroke-width="0.8"/>
<path d="M842.30,69.00V83.40" stroke="#d4d8de" stroke-width="0.8"/>
<path d="M776.60,69.00V83.40" stroke="#1f3f8f" stroke-width="0.9"/>
<path d="M809.40,69.00V83.40" stroke="#1f3f8f" stroke-width="0.9"/>
<path d="M207.30,98.60H809.40" stroke="#16368f" stroke-width="0.68"/>
<path d="M207.30,114.00H809.40" stroke="#16368f" stroke-width="0.68"/>
<path d="M207.30,83.40V130.10" stroke="#16368f" stroke-width="0.68"/>
<path d="M483.30,83.40V130.10" stroke="#16368f" stroke-width="0.68"/>
<path d="M515.70,83.40V130.10" stroke="#16368f" stroke-width="0.68"/>
<path d="M547.70,83.40V130.10" stroke="#16368f" stroke-width="0.68"/>
<path d="M580.50,83.40V130.10" stroke="#16368f" stroke-width="0.68"/>
<path d="M612.50,83.40V130.10" stroke="#16368f" stroke-width="0.68"/>
<path d="M645.60,83.40V130.10" stroke="#16368f" stroke-width="0.68"/>
<path d="M678.50,83.40V130.10" stroke="#16368f" stroke-width="0.68"/>
<path d="M711.00,83.40V130.10" stroke="#16368f" stroke-width="0.68"/>
<path d="M743.60,83.40V130.10" stroke="#16368f" stroke-width="0.68"/>
<path d="M776.60,83.40V130.10" stroke="#16368f" stroke-width="0.68"/>
<path d="M809.40,83.40V130.10" stroke="#16368f" stroke-width="0.68"/>
<path d="M842.30,83.40V130.10" stroke="#16368f" stroke-width="0.68"/>
<path d="M207.30,130.10H483.30" stroke="#16368f" stroke-width="0.68"/>
<path d="M4.00,145.00H207.30" stroke="#a9b2c2" stroke-width="0.9"/>
<path d="M483.30,145.00H580.50" stroke="#9aa6bb" stroke-width="0.9"/>
<path d="M580.50,145.00H809.40" stroke="#3d5078" stroke-width="0.68"/>
<path d="M809.40,145.00H896.40" stroke="#b9c1cc" stroke-width="1.0"/>
<path d="M4.00,158.80H207.30" stroke="#3d5078" stroke-width="0.68"/>
<path d="M207.30,158.80H301.00" stroke="#16368f" stroke-width="0.68"/>
<path d="M301.00,158.80H896.40" stroke="#3d5078" stroke-width="0.68"/>
<path d="M4.00,173.60H207.30" stroke="#3d5078" stroke-width="0.68"/>
<path d="M207.30,173.60H301.00" stroke="#16368f" stroke-width="0.68"/>
<path d="M301.00,173.60H896.40" stroke="#3d5078" stroke-width="0.68"/>
<path d="M4.00,188.20H207.30" stroke="#3d5078" stroke-width="0.68"/>
<path d="M207.30,188.20H301.00" stroke="#16368f" stroke-width="0.68"/>
<path d="M301.00,188.20H896.40" stroke="#3d5078" stroke-width="0.68"/>
<path d="M4.00,203.00H207.30" stroke="#3d5078" stroke-width="0.68"/>
<path d="M207.30,203.00H301.00" stroke="#16368f" stroke-width="0.68"/>
<path d="M301.00,203.00H896.40" stroke="#3d5078" stroke-width="0.68"/>
<path d="M207.30,217.50H301.00" stroke="#16368f" stroke-width="0.68"/>
<path d="M301.00,217.50H896.40" stroke="#3d5078" stroke-width="0.68"/>
<path d="M4.00,232.60H207.30" stroke="#3d5078" stroke-width="0.68"/>
<path d="M207.30,232.60H301.00" stroke="#16368f" stroke-width="0.68"/>
<path d="M301.00,232.60H896.40" stroke="#3d5078" stroke-width="0.68"/>
<path d="M207.30,247.50H301.00" stroke="#16368f" stroke-width="0.68"/>
<path d="M301.00,247.50H896.40" stroke="#3d5078" stroke-width="0.68"/>
<path d="M4.00,262.40H207.30" stroke="#3d5078" stroke-width="0.68"/>
<path d="M207.30,262.40H301.00" stroke="#16368f" stroke-width="0.68"/>
<path d="M301.00,262.40H896.40" stroke="#3d5078" stroke-width="0.68"/>
<path d="M4.00,277.40H207.30" stroke="#3d5078" stroke-width="0.68"/>
<path d="M207.30,277.40H301.00" stroke="#16368f" stroke-width="0.68"/>
<path d="M301.00,277.40H896.40" stroke="#3d5078" stroke-width="0.68"/>
<path d="M4.00,291.80H207.30" stroke="#3d5078" stroke-width="0.68"/>
<path d="M207.30,291.80H301.00" stroke="#16368f" stroke-width="0.68"/>
<path d="M301.00,291.80H896.40" stroke="#3d5078" stroke-width="0.68"/>
<path d="M4.00,306.30H207.30" stroke="#3d5078" stroke-width="0.68"/>
<path d="M207.30,306.30H301.00" stroke="#16368f" stroke-width="0.68"/>
<path d="M301.00,306.30H896.40" stroke="#3d5078" stroke-width="0.68"/>
<path d="M4.00,321.30H207.30" stroke="#3d5078" stroke-width="0.68"/>
<path d="M207.30,321.30H301.00" stroke="#16368f" stroke-width="0.68"/>
<path d="M301.00,321.30H896.40" stroke="#3d5078" stroke-width="0.68"/>
<path d="M301.00,336.40H896.40" stroke="#3d5078" stroke-width="0.68"/>
<path d="M4.00,351.50H207.30" stroke="#3d5078" stroke-width="0.68"/>
<path d="M207.30,351.50H301.00" stroke="#16368f" stroke-width="0.68"/>
<path d="M301.00,351.50H896.40" stroke="#3d5078" stroke-width="0.68"/>
<path d="M4.00,366.00H207.30" stroke="#3d5078" stroke-width="0.68"/>
<path d="M207.30,366.00H301.00" stroke="#16368f" stroke-width="0.68"/>
<path d="M301.00,366.00H896.40" stroke="#3d5078" stroke-width="0.68"/>
<path d="M4.00,380.60H207.30" stroke="#3d5078" stroke-width="0.68"/>
<path d="M207.30,380.60H301.00" stroke="#16368f" stroke-width="0.68"/>
<path d="M301.00,380.60H896.40" stroke="#3d5078" stroke-width="0.68"/>
<path d="M4.00,395.30H207.30" stroke="#3d5078" stroke-width="0.68"/>
<path d="M207.30,395.30H301.00" stroke="#16368f" stroke-width="0.68"/>
<path d="M301.00,395.30H896.40" stroke="#3d5078" stroke-width="0.68"/>
<path d="M4.00,410.50H207.30" stroke="#3d5078" stroke-width="0.68"/>
<path d="M207.30,410.50H301.00" stroke="#16368f" stroke-width="0.68"/>
<path d="M301.00,410.50H896.40" stroke="#3d5078" stroke-width="0.68"/>
<path d="M4.00,425.50H207.30" stroke="#3d5078" stroke-width="0.68"/>
<path d="M207.30,425.50H301.00" stroke="#16368f" stroke-width="0.68"/>
<path d="M301.00,425.50H896.40" stroke="#3d5078" stroke-width="0.68"/>
<path d="M4.00,440.40H207.30" stroke="#3d5078" stroke-width="0.68"/>
<path d="M207.30,440.40H301.00" stroke="#16368f" stroke-width="0.68"/>
<path d="M301.00,440.40H896.40" stroke="#3d5078" stroke-width="0.68"/>
<path d="M207.30,454.60H301.00" stroke="#16368f" stroke-width="0.68"/>
<path d="M301.00,454.60H896.40" stroke="#3d5078" stroke-width="0.68"/>
<path d="M4.00,469.50H207.30" stroke="#3d5078" stroke-width="0.68"/>
<path d="M207.30,469.50H301.00" stroke="#16368f" stroke-width="0.68"/>
<path d="M301.00,469.50H896.40" stroke="#3d5078" stroke-width="0.68"/>
<path d="M4.00,484.50H207.30" stroke="#3d5078" stroke-width="0.68"/>
<path d="M207.30,484.50H301.00" stroke="#16368f" stroke-width="0.68"/>
<path d="M301.00,484.50H896.40" stroke="#3d5078" stroke-width="0.68"/>
<path d="M207.30,145.00H483.30" stroke="#16368f" stroke-width="0.68"/>
<path d="M3.90,130.10V499.20" stroke="#3d5078" stroke-width="0.68"/>
<path d="M207.30,130.10V499.20" stroke="#3d5078" stroke-width="0.68"/>
<path d="M301.00,145.00V499.20" stroke="#3d5078" stroke-width="0.68"/>
<path d="M329.40,145.00V499.20" stroke="#3d5078" stroke-width="0.68"/>
<path d="M483.30,130.10V499.20" stroke="#3d5078" stroke-width="0.68"/>
<path d="M515.70,130.10V499.20" stroke="#3d5078" stroke-width="0.68"/>
<path d="M547.70,130.10V499.20" stroke="#3d5078" stroke-width="0.68"/>
<path d="M580.50,130.10V499.20" stroke="#3d5078" stroke-width="0.68"/>
<path d="M612.50,130.10V499.20" stroke="#3d5078" stroke-width="0.68"/>
<path d="M645.60,130.10V484.50" stroke="#3d5078" stroke-width="0.68"/>
<path d="M678.50,130.10V484.50" stroke="#3d5078" stroke-width="0.68"/>
<path d="M711.00,130.10V484.50" stroke="#3d5078" stroke-width="0.68"/>
<path d="M743.60,130.10V484.50" stroke="#3d5078" stroke-width="0.68"/>
<path d="M776.60,130.10V484.50" stroke="#3d5078" stroke-width="0.68"/>
<path d="M809.40,130.10V499.20" stroke="#3d5078" stroke-width="0.68"/>
<path d="M842.30,130.10V499.20" stroke="#3d5078" stroke-width="0.68"/></g>
</svg>
<div class="t1">杭州第4届亚残运会</div>
<div class="t2">The 4th Asian Para Games</div>
<div class="tt">第4届亚残运会总赛程</div>
<div class="c vb" style="left:776.6px;top:70px;width:32.8px;font-size:10.3px">V3.0</div>
<div class="c vb r" style="left:842.3px;top:70px;width:49.5px;font-size:9.2px"><span class="d" style="margin:0 -0.33px">2023</span>年<span class="d" style="margin:0 -0.08px">9</span>月</div>
<div class="c ht" style="left:4.0px;top:101px;width:203.3px;letter-spacing:1px">竞赛场馆</div>
<div class="c ht" style="left:207.3px;top:85px;width:276.0px;"><span class="d" style="margin:0 -0.33px">2023</span>年<span class="d" style="margin:0 -0.16px">10</span>月</div>
<div class="c ht" style="left:207.3px;top:100px;width:276.0px;">星期</div>
<div class="c ht" style="left:207.3px;top:116px;width:276.0px;">竞赛日</div>
<div class="c ht" style="left:483.3px;top:85px;width:32.4px;"><span class="d">19</span></div>
<div class="c ht" style="left:483.3px;top:100px;width:32.4px;font-size:9.2px">四</div>
<div class="c ht" style="left:483.3px;top:116px;width:32.4px;"><span class="d">−3</span></div>
<div class="c ht" style="left:515.7px;top:85px;width:32.0px;"><span class="d">20</span></div>
<div class="c ht" style="left:515.7px;top:100px;width:32.0px;font-size:9.2px">五</div>
<div class="c ht" style="left:515.7px;top:116px;width:32.0px;"><span class="d">−2</span></div>
<div class="c ht" style="left:547.7px;top:85px;width:32.8px;"><span class="d">21</span></div>
<div class="c ht" style="left:547.7px;top:100px;width:32.8px;font-size:9.2px">六</div>
<div class="c ht" style="left:547.7px;top:116px;width:32.8px;"><span class="d">−1</span></div>
<div class="c ht" style="left:580.5px;top:85px;width:32.0px;"><span class="d">22</span></div>
<div class="c ht" style="left:580.5px;top:100px;width:32.0px;font-size:9.2px">日</div>
<div class="c ht" style="left:580.5px;top:116px;width:32.0px;"><span class="d">0</span></div>
<div class="c ht" style="left:612.5px;top:85px;width:33.1px;"><span class="d">23</span></div>
<div class="c ht" style="left:612.5px;top:100px;width:33.1px;font-size:9.2px">一</div>
<div class="c ht" style="left:612.5px;top:116px;width:33.1px;"><span class="d">1</span></div>
<div class="c ht" style="left:645.6px;top:85px;width:32.9px;"><span class="d">24</span></div>
<div class="c ht" style="left:645.6px;top:100px;width:32.9px;font-size:9.2px">二</div>
<div class="c ht" style="left:645.6px;top:116px;width:32.9px;"><span class="d">2</span></div>
<div class="c ht" style="left:678.5px;top:85px;width:32.5px;"><span class="d">25</span></div>
<div class="c ht" style="left:678.5px;top:100px;width:32.5px;font-size:9.2px">三</div>
<div class="c ht" style="left:678.5px;top:116px;width:32.5px;"><span class="d">3</span></div>
<div class="c ht" style="left:711.0px;top:85px;width:32.6px;"><span class="d">26</span></div>
<div class="c ht" style="left:711.0px;top:100px;width:32.6px;font-size:9.2px">四</div>
<div class="c ht" style="left:711.0px;top:116px;width:32.6px;"><span class="d">4</span></div>
<div class="c ht" style="left:743.6px;top:85px;width:33.0px;"><span class="d">27</span></div>
<div class="c ht" style="left:743.6px;top:100px;width:33.0px;font-size:9.2px">五</div>
<div class="c ht" style="left:743.6px;top:116px;width:33.0px;"><span class="d">5</span></div>
<div class="c ht" style="left:776.6px;top:85px;width:32.8px;"><span class="d">28</span></div>
<div class="c ht" style="left:776.6px;top:100px;width:32.8px;font-size:9.2px">六</div>
<div class="c ht" style="left:776.6px;top:116px;width:32.8px;"><span class="d">6</span></div>
<div class="c ht" style="left:809.4px;top:96px;width:32.9px;letter-spacing:0.8px">金牌</div>
<div class="c ht" style="left:809.4px;top:107px;width:32.9px;">数</div>
<div class="c ht" style="left:842.3px;top:101px;width:54.1px;letter-spacing:0.9px">预计天数</div>
<div class="c ht" style="left:207.3px;top:132px;width:276.0px;">开闭幕式</div>
<div class="c oc w" style="left:580.5px;top:132px;width:32.0px;"><span class="d">OC</span></div>
<div class="c oc w" style="left:776.6px;top:132px;width:32.8px;"><span class="d">CC</span></div>
<div class="c bt" style="left:4.0px;top:146px;width:203.3px;">黄龙体育中心体育场</div>
<div class="c ht st" style="left:207.3px;top:146px;width:93.7px;">田径</div>
<div class="c bt l" style="left:331.4px;top:146px;width:151.9px;">肢体障碍、视力障碍、智力障碍</div>
<div class="c oc" style="left:580.5px;top:146px;width:32.0px;"><span class="d">OC</span></div>
<div class="c nm" style="left:809.4px;top:146px;width:32.9px;"><span class="d">153</span></div>
<div class="c nm" style="left:842.3px;top:146px;width:54.1px;"><span class="d" style="margin:0 -0.08px">6</span>天</div>
<div class="c bt" style="left:4.0px;top:161px;width:203.3px;">杭州奥体中心游泳馆</div>
<div class="c ht st" style="left:207.3px;top:161px;width:93.7px;">游泳</div>
<div class="c bt l" style="left:331.4px;top:161px;width:151.9px;">肢体障碍、视力障碍、智力障碍</div>
<div class="c oc" style="left:580.5px;top:160px;width:32.0px;"><span class="d">OC</span></div>
<div class="c nm" style="left:809.4px;top:160px;width:32.9px;"><span class="d">141</span></div>
<div class="c nm" style="left:842.3px;top:160px;width:54.1px;"><span class="d" style="margin:0 -0.08px">5</span>天</div>
<div class="c bt" style="left:4.0px;top:175px;width:203.3px;">杭州奥体中心体育馆</div>
<div class="c ht st" style="left:207.3px;top:175px;width:93.7px;">轮椅篮球</div>
<div class="c bt l" style="left:331.4px;top:175px;width:151.9px;">肢体障碍</div>
<div class="c oc" style="left:580.5px;top:175px;width:32.0px;"><span class="d">OC</span></div>
<div class="c nm" style="left:809.4px;top:175px;width:32.9px;"><span class="d">2</span></div>
<div class="c nm" style="left:842.3px;top:175px;width:54.1px;"><span class="d" style="margin:0 -0.08px">7</span>天</div>
<div class="c bt" style="left:4.0px;top:190px;width:203.3px;">杭州奥体中心网球中心</div>
<div class="c ht st" style="left:207.3px;top:190px;width:93.7px;">轮椅网球</div>
<div class="c bt l" style="left:331.4px;top:190px;width:151.9px;">肢体障碍</div>
<div class="c oc" style="left:580.5px;top:190px;width:32.0px;"><span class="d">OC</span></div>
<div class="c nm" style="left:809.4px;top:190px;width:32.9px;"><span class="d">6</span></div>
<div class="c nm" style="left:842.3px;top:190px;width:54.1px;"><span class="d" style="margin:0 -0.08px">5</span>天</div>
<div class="c bt" style="left:4.0px;top:212px;width:203.3px;">富阳银湖体育中心</div>
<div class="c ht st" style="left:207.3px;top:205px;width:93.7px;">射箭</div>
<div class="c bt l" style="left:331.4px;top:205px;width:151.9px;">肢体障碍</div>
<div class="c oc" style="left:580.5px;top:204px;width:32.0px;"><span class="d">OC</span></div>
<div class="c nm" style="left:809.4px;top:204px;width:32.9px;"><span class="d">15</span></div>
<div class="c nm" style="left:842.3px;top:204px;width:54.1px;"><span class="d" style="margin:0 -0.08px">6</span>天</div>
<div class="c ht st" style="left:207.3px;top:220px;width:93.7px;">射击</div>
<div class="c bt l" style="left:331.4px;top:220px;width:151.9px;">肢体障碍</div>
<div class="c oc" style="left:580.5px;top:219px;width:32.0px;"><span class="d">OC</span></div>
<div class="c nm" style="left:809.4px;top:219px;width:32.9px;"><span class="d">13</span></div>
<div class="c nm" style="left:842.3px;top:219px;width:54.1px;"><span class="d" style="margin:0 -0.08px">5</span>天</div>
<div class="c bt" style="left:4.0px;top:242px;width:203.3px;">富阳水上中心</div>
<div class="c ht st" style="left:207.3px;top:235px;width:93.7px;">赛艇</div>
<div class="c bt l" style="left:331.4px;top:235px;width:151.9px;">肢体障碍、视力障碍</div>
<div class="c oc" style="left:580.5px;top:234px;width:32.0px;"><span class="d">OC</span></div>
<div class="c nm" style="left:809.4px;top:234px;width:32.9px;"><span class="d">5</span></div>
<div class="c nm" style="left:842.3px;top:234px;width:54.1px;"><span class="d" style="margin:0 -0.08px">2</span>天</div>
<div class="c ht st" style="left:207.3px;top:249px;width:93.7px;">皮划艇</div>
<div class="c bt l" style="left:331.4px;top:249px;width:151.9px;">肢体障碍</div>
<div class="c oc" style="left:580.5px;top:249px;width:32.0px;"><span class="d">OC</span></div>
<div class="c nm" style="left:809.4px;top:249px;width:32.9px;"><span class="d">10</span></div>
<div class="c nm" style="left:842.3px;top:249px;width:54.1px;"><span class="d" style="margin:0 -0.08px">2</span>天</div>
<div class="c bt" style="left:4.0px;top:264px;width:203.3px;">拱墅运河体育公园体育场</div>
<div class="c ht st" style="left:207.3px;top:264px;width:93.7px;">盲人足球</div>
<div class="c bt l" style="left:331.4px;top:264px;width:151.9px;">视力障碍</div>
<div class="c oc" style="left:580.5px;top:264px;width:32.0px;"><span class="d">OC</span></div>
<div class="c nm" style="left:809.4px;top:264px;width:32.9px;"><span class="d">1</span></div>
<div class="c nm" style="left:842.3px;top:264px;width:54.1px;"><span class="d" style="margin:0 -0.08px">6</span>天</div>
<div class="c bt" style="left:4.0px;top:279px;width:203.3px;">拱墅运河体育公园体育馆</div>
<div class="c ht st" style="left:207.3px;top:279px;width:93.7px;">乒乓球</div>
<div class="c bt l" style="left:331.4px;top:279px;width:151.9px;">肢体障碍、智力障碍</div>
<div class="c oc" style="left:580.5px;top:279px;width:32.0px;"><span class="d">OC</span></div>
<div class="c nm" style="left:809.4px;top:279px;width:32.9px;"><span class="d">37</span></div>
<div class="c nm" style="left:842.3px;top:279px;width:54.1px;"><span class="d" style="margin:0 -0.08px">7</span>天</div>
<div class="c bt" style="left:4.0px;top:294px;width:203.3px;">临平体育中心体育馆</div>
<div class="c ht st" style="left:207.3px;top:294px;width:93.7px;">坐式排球</div>
<div class="c bt l" style="left:331.4px;top:294px;width:151.9px;">肢体障碍</div>
<div class="c oc" style="left:580.5px;top:293px;width:32.0px;"><span class="d">OC</span></div>
<div class="c nm" style="left:809.4px;top:293px;width:32.9px;"><span class="d">2</span></div>
<div class="c nm" style="left:842.3px;top:293px;width:54.1px;"><span class="d" style="margin:0 -0.08px">5</span>天</div>
<div class="c bt" style="left:4.0px;top:308px;width:203.3px;">浙江塘栖盲人门球基地门球馆</div>
<div class="c ht st" style="left:207.3px;top:308px;width:93.7px;">盲人门球</div>
<div class="c bt l" style="left:331.4px;top:308px;width:151.9px;">视力障碍</div>
<div class="c oc" style="left:580.5px;top:308px;width:32.0px;"><span class="d">OC</span></div>
<div class="c nm" style="left:809.4px;top:308px;width:32.9px;"><span class="d">2</span></div>
<div class="c nm" style="left:842.3px;top:308px;width:54.1px;"><span class="d" style="margin:0 -0.08px">5</span>天</div>
<div class="c bt" style="left:4.0px;top:331px;width:203.3px;">淳安界首体育中心自行车馆（含公路）</div>
<div class="c ht st" style="left:207.3px;top:331px;width:93.7px;">自行车</div>
<div class="c bt" style="left:301.0px;top:323px;width:28.4px;">场地</div>
<div class="c bt l" style="left:331.4px;top:323px;width:151.9px;">肢体障碍、视力障碍</div>
<div class="c oc" style="left:580.5px;top:323px;width:32.0px;"><span class="d">OC</span></div>
<div class="c nm" style="left:809.4px;top:323px;width:32.9px;"><span class="d">15</span></div>
<div class="c nm" style="left:842.3px;top:323px;width:54.1px;"><span class="d" style="margin:0 -0.08px">3</span>天</div>
<div class="c bt" style="left:301.0px;top:338px;width:28.4px;">公路</div>
<div class="c bt l" style="left:331.4px;top:338px;width:151.9px;">肢体障碍、视力障碍</div>
<div class="c oc" style="left:580.5px;top:338px;width:32.0px;"><span class="d">OC</span></div>
<div class="c nm" style="left:809.4px;top:338px;width:32.9px;"><span class="d">15</span></div>
<div class="c nm" style="left:842.3px;top:338px;width:54.1px;"><span class="d" style="margin:0 -0.08px">2</span>天</div>
<div class="c bt" style="left:4.0px;top:353px;width:203.3px;">萧山体育中心体育馆</div>
<div class="c ht st" style="left:207.3px;top:353px;width:93.7px;">举重</div>
<div class="c bt l" style="left:331.4px;top:353px;width:151.9px;">肢体障碍</div>
<div class="c oc" style="left:580.5px;top:353px;width:32.0px;"><span class="d">OC</span></div>
<div class="c nm" style="left:809.4px;top:353px;width:32.9px;"><span class="d">20</span></div>
<div class="c nm" style="left:842.3px;top:353px;width:54.1px;"><span class="d" style="margin:0 -0.08px">6</span>天</div>
<div class="c bt" style="left:4.0px;top:368px;width:203.3px;">萧山临浦体育馆</div>
<div class="c ht st" style="left:207.3px;top:368px;width:93.7px;">柔道</div>
<div class="c bt l" style="left:331.4px;top:368px;width:151.9px;">视力障碍</div>
<div class="c oc" style="left:580.5px;top:368px;width:32.0px;"><span class="d">OC</span></div>
<div class="c nm" style="left:809.4px;top:367px;width:32.9px;"><span class="d">16</span></div>
<div class="c nm" style="left:842.3px;top:367px;width:54.1px;"><span class="d" style="margin:0 -0.08px">3</span>天</div>
<div class="c bt" style="left:4.0px;top:382px;width:203.3px;">萧山瓜沥文化体育中心</div>
<div class="c ht st" style="left:207.3px;top:382px;width:93.7px;">跆拳道</div>
<div class="c bt l" style="left:331.4px;top:382px;width:151.9px;">肢体障碍</div>
<div class="c oc" style="left:580.5px;top:382px;width:32.0px;"><span class="d">OC</span></div>
<div class="c nm" style="left:809.4px;top:382px;width:32.9px;"><span class="d">10</span></div>
<div class="c nm" style="left:842.3px;top:382px;width:54.1px;"><span class="d" style="margin:0 -0.08px">3</span>天</div>
<div class="c bt" style="left:4.0px;top:397px;width:203.3px;">滨江体育馆</div>
<div class="c ht st" style="left:207.3px;top:397px;width:93.7px;">羽毛球</div>
<div class="c bt l" style="left:331.4px;top:397px;width:151.9px;">肢体障碍</div>
<div class="c oc" style="left:580.5px;top:397px;width:32.0px;"><span class="d">OC</span></div>
<div class="c nm" style="left:809.4px;top:397px;width:32.9px;"><span class="d">22</span></div>
<div class="c nm" style="left:842.3px;top:397px;width:54.1px;"><span class="d" style="margin:0 -0.08px">7</span>天</div>
<div class="c bt" style="left:4.0px;top:412px;width:203.3px;">杭州体育馆</div>
<div class="c ht st" style="left:207.3px;top:412px;width:93.7px;">硬地滚球</div>
<div class="c bt l" style="left:331.4px;top:412px;width:151.9px;">肢体障碍</div>
<div class="c oc" style="left:580.5px;top:412px;width:32.0px;"><span class="d">OC</span></div>
<div class="c nm" style="left:809.4px;top:412px;width:32.9px;"><span class="d">11</span></div>
<div class="c nm" style="left:842.3px;top:412px;width:54.1px;"><span class="d" style="margin:0 -0.08px">6</span>天</div>
<div class="c bt" style="left:4.0px;top:427px;width:203.3px;">杭州电子科技大学体育馆</div>
<div class="c ht st" style="left:207.3px;top:427px;width:93.7px;">轮椅击剑</div>
<div class="c bt l" style="left:331.4px;top:427px;width:151.9px;">肢体障碍</div>
<div class="c oc" style="left:580.5px;top:427px;width:32.0px;"><span class="d">OC</span></div>
<div class="c nm" style="left:809.4px;top:427px;width:32.9px;"><span class="d">18</span></div>
<div class="c nm" style="left:842.3px;top:427px;width:54.1px;"><span class="d" style="margin:0 -0.08px">6</span>天</div>
<div class="c bt" style="left:4.0px;top:449px;width:203.3px;">杭州棋院（智力大厦）棋类馆</div>
<div class="c ht st" style="left:207.3px;top:442px;width:93.7px;">国际象棋</div>
<div class="c bt l" style="left:331.4px;top:442px;width:151.9px;">肢体障碍、视力障碍</div>
<div class="c oc" style="left:580.5px;top:442px;width:32.0px;"><span class="d">OC</span></div>
<div class="c nm" style="left:809.4px;top:442px;width:32.9px;"><span class="d">24</span></div>
<div class="c nm" style="left:842.3px;top:442px;width:54.1px;"><span class="d" style="margin:0 -0.08px">6</span>天</div>
<div class="c ht st" style="left:207.3px;top:457px;width:93.7px;">围棋</div>
<div class="c bt l" style="left:331.4px;top:457px;width:151.9px;">肢体障碍</div>
<div class="c oc" style="left:580.5px;top:456px;width:32.0px;"><span class="d">OC</span></div>
<div class="c nm" style="left:809.4px;top:456px;width:32.9px;"><span class="d">4</span></div>
<div class="c nm" style="left:842.3px;top:456px;width:54.1px;"><span class="d" style="margin:0 -0.08px">4</span>天</div>
<div class="c bt" style="left:4.0px;top:472px;width:203.3px;">杭州文汇学校草地掷球场</div>
<div class="c ht st" style="left:207.3px;top:472px;width:93.7px;">草地掷球</div>
<div class="c bt l" style="left:331.4px;top:472px;width:151.9px;">肢体障碍、视力障碍</div>
<div class="c oc" style="left:580.5px;top:471px;width:32.0px;"><span class="d">OC</span></div>
<div class="c nm" style="left:809.4px;top:471px;width:32.9px;"><span class="d">24</span></div>
<div class="c nm" style="left:842.3px;top:471px;width:54.1px;"><span class="d" style="margin:0 -0.08px">6</span>天</div>
<div class="c lg" style="left:647.6px;top:486px;width:30.9px;">比赛日</div>
<div class="c lg" style="left:713.0px;top:486px;width:30.6px;">开幕式</div>
<div class="c lg" style="left:778.6px;top:486px;width:30.8px;">闭幕式</div>
<div class="c nm" style="left:809.4px;top:486px;width:32.9px;"><span class="d">566</span></div>
</body>
</html>
